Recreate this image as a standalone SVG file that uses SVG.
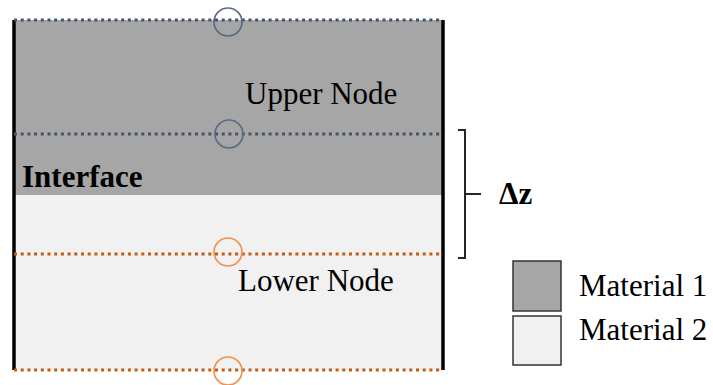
<svg xmlns="http://www.w3.org/2000/svg" width="713" height="385" viewBox="0 0 713 385">
<style>
.blue{stroke:#44546a;stroke-width:3;stroke-dasharray:3 3.7;fill:none}
.orng{stroke:#c55a11;stroke-width:3;stroke-dasharray:3 3.7;fill:none}
.cb{fill:none;stroke:#5b6b85;stroke-width:1.7}
.co{fill:none;stroke:#f0924f;stroke-width:1.7}
.wall{stroke:#000;stroke-width:3.5}
</style>
<rect width="713" height="385" fill="#fff"/>
<g id="material1-region"><rect x="14" y="20" width="429" height="175" fill="#a6a6a6"/></g>
<g id="material2-region"><rect x="14" y="195" width="429" height="175" fill="#f1f1f1"/></g>
<g id="walls">
<line class="wall" x1="14" y1="20" x2="14" y2="370"/>
<line class="wall" x1="443" y1="20" x2="443" y2="370"/>
</g>
<g id="connectors">
<line class="blue" x1="14" y1="20" x2="443" y2="20"/>
<line class="blue" x1="14" y1="134" x2="443" y2="134"/>
<line class="orng" x1="14" y1="254" x2="443" y2="254"/>
<line class="orng" x1="14" y1="370" x2="443" y2="370"/>
</g>
<g font-family="Liberation Serif" font-size="31" fill="#000">
<g id="node-top"><circle class="cb" cx="228" cy="22" r="14"/></g>
<g id="node-upper"><circle class="cb" cx="229" cy="134" r="14"/><text x="245" y="104">Upper Node</text></g>
<g id="node-lower"><circle class="co" cx="228" cy="252" r="14"/><text x="238" y="291">Lower Node</text></g>
<g id="node-bottom"><circle class="co" cx="228" cy="371" r="14"/></g>
<g id="interface"><text font-weight="bold" x="22" y="187">Interface</text></g>
<g id="dz">
<path d="M458,130 H465 V258 H458 M465,194 H481" fill="none" stroke="#262626" stroke-width="2"/>
<text font-weight="bold" x="499" y="204">Δz</text>
</g>
<g id="legend1"><rect x="513" y="261" width="48" height="50" fill="#a6a6a6" stroke="#333" stroke-width="1.5"/><text x="579" y="296">Material 1</text></g>
<g id="legend2"><rect x="513" y="316" width="48" height="49" fill="#f1f1f1" stroke="#333" stroke-width="1.5"/><text x="579" y="340">Material 2</text></g>
</g>
</svg>
